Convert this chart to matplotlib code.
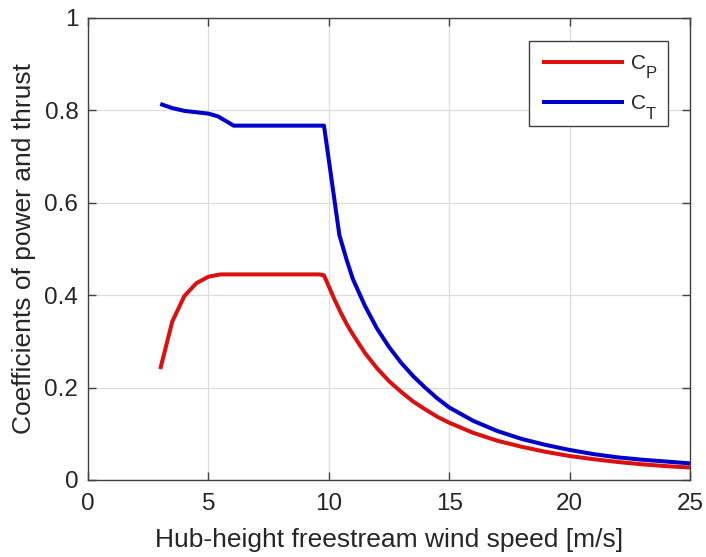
import matplotlib
matplotlib.use("Agg")
import matplotlib.pyplot as plt
from matplotlib.ticker import FixedLocator, FixedFormatter

plt.rcParams['font.family'] = ['Liberation Sans', 'DejaVu Sans']

# Power coefficient curve
cp_speed = [3.0, 3.5, 4.0, 4.5, 5.0, 5.5, 9.6, 9.8, 10.0, 10.25, 10.5, 10.75, 11.0, 11.5,
            12.0, 12.5, 13.0, 13.5, 14.0, 14.5, 15.0, 16.0, 17.0, 18.0, 19.0, 20.0, 21.0,
            22.0, 23.0, 24.0, 25.0]
cp_vals = [0.240, 0.343, 0.398, 0.426, 0.440, 0.445, 0.445, 0.443, 0.419, 0.389, 0.362,
           0.337, 0.315, 0.275, 0.242, 0.214, 0.191, 0.170, 0.153, 0.137, 0.124, 0.102,
           0.085, 0.072, 0.061, 0.052, 0.045, 0.039, 0.034, 0.030, 0.027]

# Thrust coefficient curve
ct_speed = [3.0, 3.5, 4.0, 4.5, 5.0, 5.4, 6.05, 9.8, 10.44, 10.75, 11.0, 11.5, 12.0, 12.5,
            13.0, 13.5, 14.0, 14.5, 15.0, 16.0, 17.0, 18.0, 19.0, 20.0, 21.0, 22.0, 23.0,
            24.0, 25.0]
ct_vals = [0.814, 0.805, 0.799, 0.796, 0.793, 0.787, 0.767, 0.767, 0.530, 0.475, 0.435,
           0.377, 0.328, 0.288, 0.254, 0.225, 0.200, 0.177, 0.157, 0.128, 0.106, 0.089,
           0.076, 0.065, 0.056, 0.049, 0.044, 0.040, 0.036]

series_names = ['C', 'C']
series_subscripts = ['P', 'T']

xticks = [0, 5, 10, 15, 20, 25]
yticks = [0, 0.2, 0.4, 0.6, 0.8, 1.0]
ytick_labels = ['0', '0.2', '0.4', '0.6', '0.8', '1']

W, H = 706, 557
fig = plt.figure(figsize=(W / 100, H / 100), dpi=100)
ax = fig.add_axes([88 / W, 77 / H, 602 / W, 462 / H])

l1, = ax.plot(cp_speed, cp_vals, color='#dd1010', lw=2.9, solid_joinstyle='round', solid_capstyle='butt')
l2, = ax.plot(ct_speed, ct_vals, color='#0000cc', lw=2.9, solid_joinstyle='round', solid_capstyle='butt')

ax.set_xlim(0, 25)
ax.set_ylim(0, 1)
ax.xaxis.set_major_locator(FixedLocator(xticks))
ax.yaxis.set_major_locator(FixedLocator(yticks))
ax.yaxis.set_major_formatter(FixedFormatter(ytick_labels))
ax.grid(True, color='#dcdcdc', lw=0.9)
ax.set_axisbelow(True)
for s in ax.spines.values():
    s.set_color('#404040')
    s.set_linewidth(1.0)
ax.tick_params(direction='in', top=True, right=True, length=6, width=1.0,
               color='#404040', labelsize=17.5, labelcolor='#262626')
ax.tick_params(axis='x', pad=9)
ax.tick_params(axis='y', pad=7)
ax.set_xlabel('Hub-height freestream wind speed [m/s]', fontsize=19, color='#262626', labelpad=10)
ax.set_ylabel('Coefficients of power and thrust', fontsize=19, color='#262626', labelpad=6)

leg = ax.legend([l1, l2], series_names, loc='upper left', mode='expand',
                bbox_to_anchor=(529 / W, (H - 127) / H, 139 / W, 86 / H),
                bbox_transform=fig.transFigure, borderaxespad=0,
                fontsize=15, fancybox=False, framealpha=1, edgecolor='#404040',
                handlelength=3.95, borderpad=0.62, labelspacing=1.02, handletextpad=0.33)
leg.get_frame().set_linewidth(1.0)
for t in leg.get_texts():
    t.set_color('#262626')

fig.canvas.draw()
for t, sub in zip(leg.get_texts(), series_subscripts):
    bb = t.get_window_extent()
    fig.text((bb.x1 - 0.5) / W, (bb.y0 + 0.5 - 6) / H, sub, fontsize=12, color='#262626',
             ha='left', va='baseline')

fig.savefig('out.png', dpi=100)
